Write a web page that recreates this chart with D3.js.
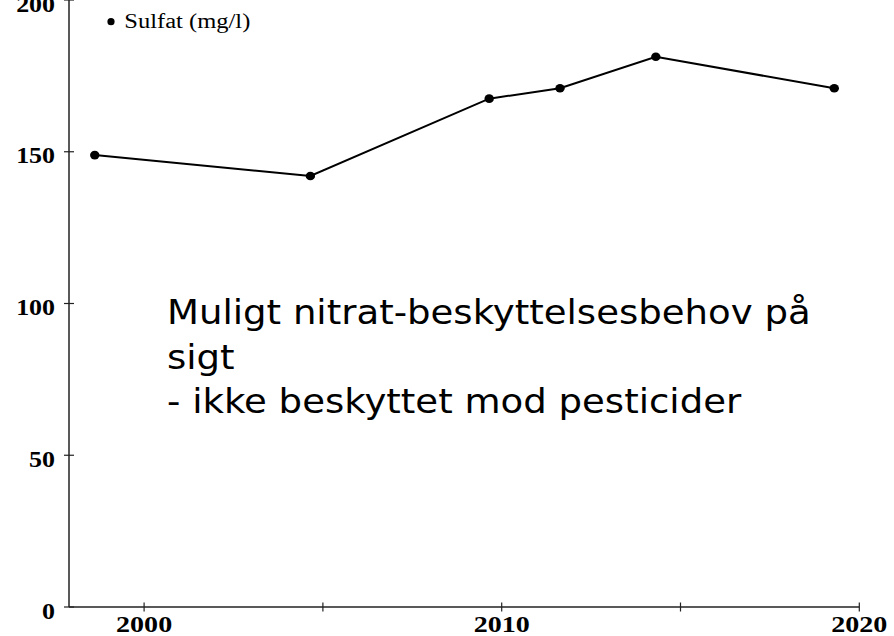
<!DOCTYPE html>
<html>
<head>
<meta charset="utf-8">
<script src="https://cdn.jsdelivr.net/npm/d3@7"></script>
<style>
  html, body { margin: 0; padding: 0; background: #fff; }
  svg { display: block; }
</style>
</head>
<body>
<svg id="chart"></svg>
<script>
// data
const years = [1998.62, 2004.65, 2009.65, 2011.63, 2014.31, 2019.30];
const sulfat = [148.9, 142.0, 167.5, 170.9, 181.3, 170.9];
const xTicks = [2000, 2005, 2010, 2015, 2020];
const xTickLabels = ["2000", "", "2010", "", "2020"];
const yTicks = [0, 50, 100, 150, 200];
const legendLabel = "Sulfat (mg/l)";
const noteLines = [
  "Muligt nitrat-beskyttelsesbehov på",
  "sigt",
  "- ikke beskyttet mod pesticider"
];

const width = 894, height = 636;

const svg = d3.select("#chart").attr("width", width).attr("height", height);

// skalaer
const x = d3.scaleLinear().domain([1997.9, 2020]).range([69, 859.3]);
const y = d3.scaleLinear().domain([0, 200]).range([607, 0]);

const axisColor = "#222";

// y-akse
svg.append("line")
  .attr("x1", x(1997.9)).attr("x2", x(1997.9))
  .attr("y1", y(0)).attr("y2", y(200))
  .attr("stroke", axisColor).attr("stroke-width", 1.5);

svg.selectAll("line.ytick")
  .data(yTicks)
  .enter()
  .append("line")
  .attr("class", "ytick")
  .attr("x1", x(1997.9) - 5).attr("x2", x(1997.9) + 5)
  .attr("y1", (d) => y(d)).attr("y2", (d) => y(d))
  .attr("stroke", axisColor).attr("stroke-width", 1.2);

svg.selectAll("text.ylab")
  .data(yTicks)
  .enter()
  .append("text")
  .attr("class", "ylab")
  .attr("transform", (d) => `translate(55,${y(d) + 11.5}) scale(1.08,1)`)
  .attr("text-anchor", "end")
  .attr("font-family", "Liberation Serif, Times New Roman, serif")
  .attr("font-weight", "bold")
  .attr("font-size", 24)
  .attr("fill", "#000")
  .text((d) => d);

// x-akse
svg.append("line")
  .attr("x1", x(1997.9)).attr("x2", x(2020))
  .attr("y1", y(0)).attr("y2", y(0))
  .attr("stroke", axisColor).attr("stroke-width", 1.5);

svg.selectAll("line.xtick")
  .data(xTicks)
  .enter()
  .append("line")
  .attr("class", "xtick")
  .attr("x1", (d) => x(d)).attr("x2", (d) => x(d))
  .attr("y1", y(0) - 4.5).attr("y2", y(0) + 4.5)
  .attr("stroke", axisColor).attr("stroke-width", 1.2);

svg.selectAll("text.xlab")
  .data(xTicks)
  .enter()
  .append("text")
  .attr("class", "xlab")
  .attr("transform", (d) => `translate(${x(d)},${y(0) + 25}) scale(1.17,1)`)
  .attr("text-anchor", "middle")
  .attr("font-family", "Liberation Serif, Times New Roman, serif")
  .attr("font-weight", "bold")
  .attr("font-size", 24)
  .attr("fill", "#000")
  .text((d, i) => xTickLabels[i]);

// linje + punkter
const pts = years.map((yr, i) => [yr, sulfat[i]]);
const line = d3.line().x((d) => x(d[0])).y((d) => y(d[1]));

svg.append("path")
  .datum(pts)
  .attr("d", line)
  .attr("fill", "none")
  .attr("stroke", "#000")
  .attr("stroke-width", 2);

svg.selectAll("ellipse.pt")
  .data(pts)
  .enter()
  .append("ellipse")
  .attr("class", "pt")
  .attr("cx", (d) => x(d[0]))
  .attr("cy", (d) => y(d[1]))
  .attr("rx", 4.7)
  .attr("ry", 4.3)
  .attr("fill", "#000");

// legende
svg.append("circle")
  .attr("cx", 111).attr("cy", 21.7).attr("r", 3.6)
  .attr("fill", "#000");

svg.append("text")
  .attr("x", 124.3).attr("y", 28.3)
  .attr("font-family", "Liberation Serif, Times New Roman, serif")
  .attr("font-size", 20)
  .attr("textLength", 126)
  .attr("lengthAdjust", "spacingAndGlyphs")
  .attr("fill", "#000")
  .text(legendLabel);

// kommentar-tekst
const note = svg.append("g");
const noteText = note.selectAll("text")
  .data(noteLines)
  .enter()
  .append("text")
  .attr("x", 0)
  .attr("y", (d, i) => 324.3 + i * 44.5)
  .attr("font-family", "Verdana, DejaVu Sans, sans-serif")
  .attr("font-size", 33.3)
  .attr("fill", "#000")
  .text((d) => d);

const w0 = noteText.nodes()[0].getComputedTextLength();
note.attr("transform", `translate(167,0) scale(${644 / w0},1)`);
</script>
</body>
</html>
